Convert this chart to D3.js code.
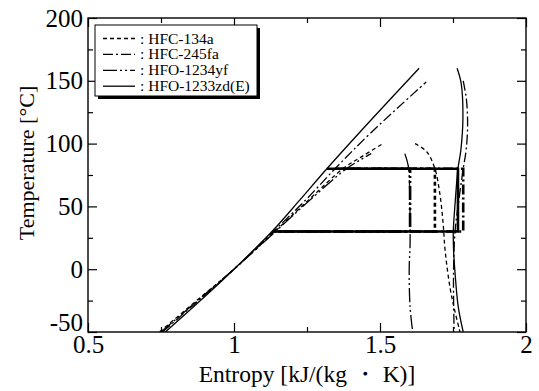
<!DOCTYPE html>
<html>
<head>
<meta charset="utf-8">
<script src="https://d3js.org/d3.v7.min.js"></script>
<style>
  body { margin: 0; background: #fff; }
  text { font-family: "Liberation Serif", "Times New Roman", serif; fill: #000; }
</style>
</head>
<body>
<div id="chart"></div>
<script>
// refrigerant names (legend order)
var fluids = ["HFC-134a", "HFC-245fa", "HFO-1234yf", "HFO-1233zd(E)"];

// saturation lines, [entropy kJ/(kg K), temperature C]
var liquid134a = [[0.745,-50],[0.872,-25],[1.0,0],[1.14,30],[1.255,55],[1.373,80],[1.44,90],[1.51,100]];
var vapor134a  = [[1.62,100],[1.66,93.5],[1.688,80],[1.705,60],[1.716,37],[1.723,15],[1.74,-15],[1.755,-32],[1.774,-50]];
var cycle134a  = [[1.373,80],[1.688,80],[1.688,30],[1.14,30]];

var liquid245fa = [[0.755,-50],[0.878,-25],[1.0,0],[1.135,30],[1.245,55],[1.346,80],[1.466,108],[1.658,149]];
var vapor245fa  = [[1.785,150],[1.796,135],[1.8,115],[1.795,95],[1.785,80],[1.77,55],[1.757,30],[1.752,0],[1.752,-25],[1.754,-50]];
var cycle245fa  = [[1.346,80],[1.785,80],[1.785,30],[1.135,30]];

var liquid1234yf = [[0.75,-50],[0.875,-25],[1.0,0],[1.142,30],[1.26,55],[1.385,80],[1.47,92]];
var vapor1234yf  = [[1.585,92],[1.597,82],[1.602,55],[1.603,20],[1.6,0],[1.603,-30],[1.612,-50]];
var cycle1234yf  = [[1.385,80],[1.603,80],[1.603,30],[1.142,30]];

var liquid1233zd = [[0.765,-50],[0.885,-25],[1.0,0],[1.13,30],[1.225,55],[1.318,80],[1.47,119],[1.634,160]];
var vapor1233zd  = [[1.764,160],[1.778,148],[1.784,121],[1.777,95],[1.767,80],[1.758,55],[1.751,30],[1.752,15],[1.757,-3],[1.768,-30],[1.785,-50]];
var cycle1233zd  = [[1.318,80],[1.767,80],[1.767,30],[1.13,30]];

// ticks
var xMajor = [0.5, 1, 1.5, 2];
var xMinor = [0.75, 1.25, 1.75];
var yMajor = [-50, 0, 50, 100, 150, 200];
var yMinor = [-25, 25, 75, 125, 175];

var dashes = ["4,3", "10,3,2,3", "14,3,2,3,2,3", null];

var series = [
  {name: fluids[0], liquid: liquid134a, vapor: vapor134a, cycle: cycle134a, dash: dashes[0]},
  {name: fluids[1], liquid: liquid245fa, vapor: vapor245fa, cycle: cycle245fa, dash: dashes[1]},
  {name: fluids[2], liquid: liquid1234yf, vapor: vapor1234yf, cycle: cycle1234yf, dash: dashes[2]},
  {name: fluids[3], liquid: liquid1233zd, vapor: vapor1233zd, cycle: cycle1233zd, dash: dashes[3]}
];

var width = 539, height = 391;
var margin = {top: 18, right: 13, bottom: 59, left: 88};

var svg = d3.select("#chart").append("svg")
    .attr("width", width)
    .attr("height", height);

var x = d3.scaleLinear().domain([0.5, 2]).range([margin.left, width - margin.right]);
var y = d3.scaleLinear().domain([-50, 200]).range([height - margin.bottom, margin.top]);

svg.append("clipPath").attr("id", "plotclip")
  .append("rect")
    .attr("x", x(0.5)).attr("y", y(200))
    .attr("width", x(2) - x(0.5)).attr("height", y(-50) - y(200));

var line = d3.line()
    .x(function(d) { return x(d[0]); })
    .y(function(d) { return y(d[1]); })
    .curve(d3.curveCatmullRom);

var straight = d3.line()
    .x(function(d) { return x(d[0]); })
    .y(function(d) { return y(d[1]); });

var plot = svg.append("g").attr("clip-path", "url(#plotclip)");

// saturation domes
series.forEach(function(s) {
  [s.liquid, s.vapor].forEach(function(pts) {
    plot.append("path")
        .attr("d", line(pts))
        .attr("fill", "none")
        .attr("stroke", "#000")
        .attr("stroke-width", 1.3)
        .attr("stroke-dasharray", s.dash);
  });
});

// cycle lines (thick)
series.forEach(function(s) {
  plot.append("path")
      .attr("d", straight(s.cycle))
      .attr("fill", "none")
      .attr("stroke", "#000")
      .attr("stroke-width", 2.6)
      .attr("stroke-dasharray", s.dash);
});

// axes with inward ticks on all sides
function styleAxis(g) {
  g.select(".domain").remove();
  g.selectAll(".tick line").attr("stroke", "#000").attr("stroke-width", 1.2);
  g.selectAll("text").style("font-size", "25px").attr("fill", "#000");
}
var fmt = function(d) { return String(d); };

svg.append("g").attr("transform", "translate(0," + y(-50) + ")")
    .call(d3.axisBottom(x).tickValues(xMajor).tickSize(-9).tickPadding(3).tickFormat(fmt))
    .call(styleAxis);
svg.append("g").attr("transform", "translate(0," + y(-50) + ")")
    .call(d3.axisBottom(x).tickValues(xMinor).tickSize(-5).tickFormat(""))
    .call(styleAxis);
svg.append("g").attr("transform", "translate(0," + y(200) + ")")
    .call(d3.axisTop(x).tickValues(xMajor).tickSize(-9).tickFormat(""))
    .call(styleAxis);
svg.append("g").attr("transform", "translate(0," + y(200) + ")")
    .call(d3.axisTop(x).tickValues(xMinor).tickSize(-5).tickFormat(""))
    .call(styleAxis);

var yAxisG = svg.append("g").attr("transform", "translate(" + x(0.5) + ",0)")
    .call(d3.axisLeft(y).tickValues(yMajor).tickSize(-9).tickPadding(5).tickFormat(fmt))
    .call(styleAxis);
// lowest label sits a little higher, clear of the x labels
yAxisG.selectAll(".tick text").filter(function(d) { return d === -50; }).attr("dy", "-0.05em");

svg.append("g").attr("transform", "translate(" + x(0.5) + ",0)")
    .call(d3.axisLeft(y).tickValues(yMinor).tickSize(-5).tickFormat(""))
    .call(styleAxis);
svg.append("g").attr("transform", "translate(" + x(2) + ",0)")
    .call(d3.axisRight(y).tickValues(yMajor).tickSize(-9).tickFormat(""))
    .call(styleAxis);
svg.append("g").attr("transform", "translate(" + x(2) + ",0)")
    .call(d3.axisRight(y).tickValues(yMinor).tickSize(-5).tickFormat(""))
    .call(styleAxis);

// frame
svg.append("rect")
    .attr("x", x(0.5)).attr("y", y(200))
    .attr("width", x(2) - x(0.5)).attr("height", y(-50) - y(200))
    .attr("fill", "none").attr("stroke", "#000").attr("stroke-width", 1.4);

// axis titles
svg.append("text")
    .attr("x", (x(0.5) + x(2)) / 2)
    .attr("y", 382)
    .attr("text-anchor", "middle")
    .style("font-size", "23.5px")
    .text("Entropy [kJ/(kg \u30FB K)]");

svg.append("text")
    .attr("transform", "translate(34,163) rotate(-90)")
    .attr("text-anchor", "middle")
    .style("font-size", "22px")
    .text("Temperature [\u00B0C]");

// legend with drop shadow
var lg = svg.append("g");
lg.append("rect").attr("x", 98).attr("y", 28).attr("width", 162).attr("height", 71).attr("fill", "#000");
lg.append("rect").attr("x", 95).attr("y", 25).attr("width", 162).attr("height", 71)
    .attr("fill", "#fff").attr("stroke", "#000").attr("stroke-width", 1);

series.forEach(function(s, i) {
  var yy = 38.5 + i * 15.9;
  lg.append("line")
      .attr("x1", 103).attr("x2", 135).attr("y1", yy).attr("y2", yy)
      .attr("stroke", "#000").attr("stroke-width", 1.3)
      .attr("stroke-dasharray", s.dash);
  lg.append("text")
      .attr("x", 140).attr("y", yy + 5)
      .style("font-size", "15.5px")
      .text(": " + s.name);
});
</script>
</body>
</html>
